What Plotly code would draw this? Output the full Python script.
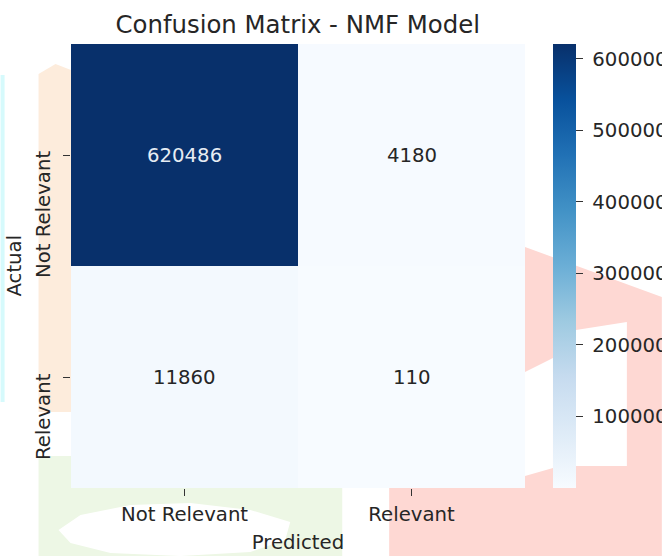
import plotly.graph_objects as go

# ---- data ----
actual_labels = ["Not Relevant", "Relevant"]
predicted_labels = ["Not Relevant", "Relevant"]
counts_not_relevant = [620486, 4180]
counts_relevant = [11860, 110]
cbar_ticks = [100000, 200000, 300000, 400000, 500000, 600000]
cbar_tick_labels = ["100000", "200000", "300000", "400000", "500000", "600000"]
title_text = "Confusion Matrix - NMF Model"
x_title = "Predicted"
y_title = "Actual"

z = [counts_not_relevant, counts_relevant]
zmin = min(min(r) for r in z)
zmax = max(max(r) for r in z)

blues = ['rgb(247,251,255)', 'rgb(222,235,247)', 'rgb(198,219,239)', 'rgb(158,202,225)',
         'rgb(107,174,214)', 'rgb(66,146,198)', 'rgb(33,113,181)', 'rgb(8,81,156)', 'rgb(8,48,107)']
colorscale = [[i / (len(blues) - 1), c] for i, c in enumerate(blues)]

W, H = 662, 556
L, R, T, B = 70.5, 525, 44, 488
FONT = "DejaVu Sans"
FS = 19.7
TXT = "#262626"

fig = go.Figure()
fig.add_trace(go.Heatmap(
    z=z, x=predicted_labels, y=actual_labels,
    colorscale=colorscale, zmin=zmin, zmax=zmax,
    hoverinfo="z",
    colorbar=dict(
        x=(553.3 - L) / (R - L), xanchor="left", xref="paper",
        y=0.5, yanchor="middle", len=1, lenmode="fraction",
        thickness=22.5, outlinewidth=0, xpad=0, ypad=0,
        tickvals=cbar_ticks, ticktext=["\u2009\u200a" + t for t in cbar_tick_labels],
        ticks="outside", ticklen=7, tickcolor="#333",
        tickfont=dict(family=FONT, size=FS, color=TXT),
    ),
))

# cell value annotations
mid = (zmin + zmax) / 2
for i, row in enumerate(z):
    for j, v in enumerate(row):
        fig.add_annotation(
            x=predicted_labels[j], y=actual_labels[i], text=str(v), showarrow=False,
            font=dict(family=FONT, size=FS, color="#e6ecf3" if v > mid else TXT),
        )

# y tick labels (rotated, hanging below the tick like the original)
for lab in actual_labels:
    fig.add_annotation(
        x=(43 - L) / (R - L), xref="paper", y=lab, yref="y", text=lab,
        textangle=-90, showarrow=False, xanchor="center", yanchor="top",
        yshift=5, borderpad=0,
        font=dict(family=FONT, size=FS, color=TXT),
    )
# y axis title
fig.add_annotation(
    x=(13 - L) / (R - L), xref="paper", y=0.5, yref="paper", text=y_title,
    textangle=-90, showarrow=False, xanchor="center", yanchor="middle", borderpad=0,
    font=dict(family=FONT, size=FS, color=TXT),
)

# background decoration (paper coords from pixel positions)
def pp(x, y):
    return (x - L) / (R - L), (B - y) / (B - T)

def path(points):
    s = ""
    for k, (x, y) in enumerate(points):
        px, py = pp(x, y)
        s += ("M" if k == 0 else "L") + f"{px:.4f},{py:.4f} "
    return s + "Z"

deco = [
    ([(38, 74), (55, 64), (70.5, 70), (70.5, 412), (38, 412)], "rgb(253,236,220)"),
    ([(0, 75), (4, 75), (4, 402), (0, 402)], "rgb(214,250,252)"),
    ([(38, 456), (70.5, 456), (70.5, 488), (342, 488), (342, 556), (38, 556)], "rgb(237,247,229)"),
    ([(525, 247), (662, 297), (662, 556), (389, 556), (389, 488), (525, 488)], "rgb(254,216,211)"),
    ([(525, 372), (553, 358), (553, 468), (525, 476)], "white"),
    ([(576, 330), (627, 322), (627, 466), (576, 466)], "white"),
    ([(58, 530), (80, 515), (130, 505), (190, 503), (250, 510), (290, 522),
      (285, 540), (250, 552), (180, 556), (110, 553), (70, 543)], "white"),
]
for pts, col in deco:
    fig.add_shape(type="path", path=path(pts), xref="paper", yref="paper",
                  fillcolor=col, line=dict(width=0), layer="below")

fig.update_layout(
    width=W, height=H,
    margin=dict(l=L, r=W - R, t=T, b=H - B, pad=0, autoexpand=False),
    paper_bgcolor="white", plot_bgcolor="white",
    font=dict(family=FONT, color=TXT),
    title=dict(text=title_text, x=(L + R) / 2 / W, xanchor="center",
               y=1 - 24 / H, yanchor="middle",
               font=dict(family=FONT, size=24.4, color=TXT)),
    xaxis=dict(
        title=dict(text=x_title, font=dict(family=FONT, size=FS, color=TXT), standoff=10),
        ticks="outside", ticklen=7, tickcolor="#333", showgrid=False, zeroline=False,
        tickfont=dict(family=FONT, size=FS, color=TXT), ticklabelstandoff=1,
        showline=False, automargin=False, range=[-0.5, len(predicted_labels) - 0.5],
        autorange=False,
    ),
    yaxis=dict(
        ticks="outside", ticklen=7, tickcolor="#333", showgrid=False, zeroline=False,
        showticklabels=False, showline=False, automargin=False,
        range=[len(actual_labels) - 0.5, -0.5], autorange=False,
    ),
)

fig.write_html("out.html", config={"displayModeBar": False},
               post_script="document.body.style.margin='0';")
